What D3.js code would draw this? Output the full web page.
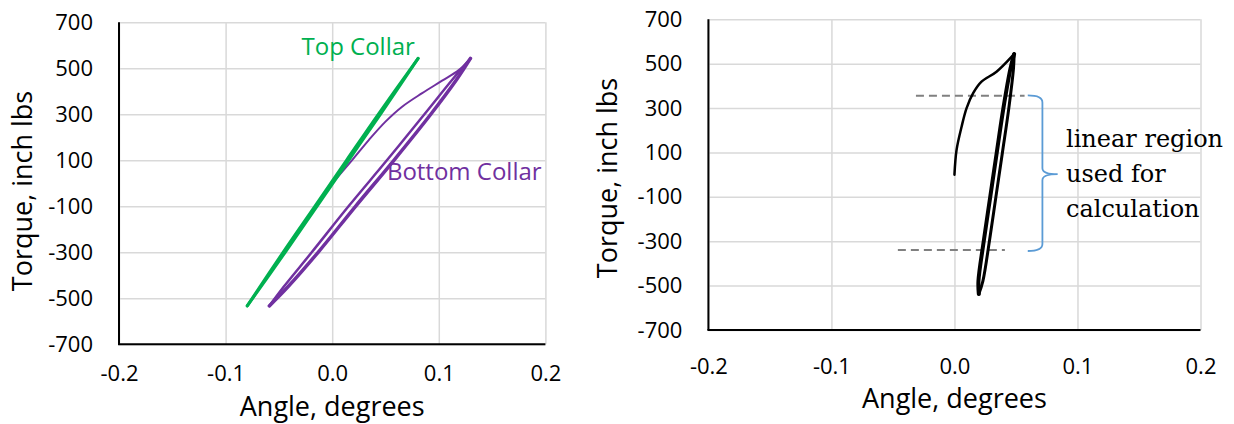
<!DOCTYPE html>
<html>
<head>
<meta charset="utf-8">
<title>torque vs angle</title>
<script src="https://d3js.org/d3.v7.min.js"></script>
<style>
  html, body { margin: 0; padding: 0; background: #fff; }
  svg text { font-family: "Open Sans", sans-serif; fill: #000; }
  .note { font-family: "DejaVu Serif", serif; }
</style>
</head>
<body>
<svg id="chart" width="1234" height="424"></svg>
<script>
// tick values shared by both panels
const angleTicks = [-0.2, -0.1, 0.0, 0.1, 0.2];
const torqueTicks = [-700, -500, -300, -100, 100, 300, 500, 700];

// left panel: top collar (green), thin hysteresis loop
const topCollarTorque = [-533, -300, -100, 100, 300, 543];
const topCollarLoad   = [-0.0797, -0.0461, -0.0163, 0.0134, 0.0432, 0.0806];
const topCollarUnload = [-0.0797, -0.0441, -0.0143, 0.0154, 0.0452, 0.0806];

// left panel: bottom collar (purple), first loading from zero
const bottomFirstAngle  = [0, 0.0187, 0.0343, 0.050, 0.0656, 0.0844, 0.1031, 0.1187, 0.1297];
const bottomFirstTorque = [0, 101, 188, 268, 333, 392, 446, 492, 541];
// bottom collar cycling loop
const bottomLoopTorque = [-533, -450, -300, -100, 100, 300, 450, 543];
const bottomUnload = [-0.059, -0.0455, -0.0192, 0.0153, 0.0513, 0.0865, 0.1126, 0.1297];
const bottomLoad   = [-0.059, -0.0415, -0.0132, 0.0219, 0.0579, 0.0925, 0.1166, 0.1297];

// right panel: single specimen (black)
const firstAngle  = [0, 0.0017, 0.0058, 0.0098, 0.0152, 0.022, 0.0342, 0.0477, 0.0485];
const firstTorque = [0, 111, 216, 299, 367, 419, 464, 539, 544];
const loopTorque = [-538, -480, -300, -100, 100, 300, 480, 544];
const loopUnload = [0.0198, 0.0195, 0.0238, 0.0291, 0.0344, 0.0398, 0.0456, 0.0485];
const loopLoad   = [0.0198, 0.0231, 0.0284, 0.0337, 0.0390, 0.0442, 0.0480, 0.0485];

// linear region marks on the right panel
const linearTop = 355, linearBottom = -339;
const noteLines = ["linear region", "used for", "calculation"];

const svg = d3.select("#chart");

const leftX = d3.scaleLinear().domain([-0.2, 0.2]).range([119, 545.4]);
const leftY = d3.scaleLinear().domain([-700, 700]).range([344.3, 22.3]);
const rightX = d3.scaleLinear().domain([-0.2, 0.2]).range([708.4, 1200.5]);
const rightY = d3.scaleLinear().domain([-700, 700]).range([330, 19.3]);

function frame(x, y, xPad, titleY, yTitleX, yTitleMid) {
    const [x0, x1] = x.range();
    const [y0, y1] = y.range();

    // grid
    svg.append("g")
        .attr("transform", `translate(0,${y0})`)
        .call(d3.axisBottom(x).tickValues(angleTicks).tickSize(-(y0 - y1)).tickFormat(""))
        .call(g => g.select(".domain").remove())
        .selectAll("line").attr("stroke", "#d9d9d9").attr("stroke-width", 1.5);
    svg.append("g")
        .attr("transform", `translate(${x0},0)`)
        .call(d3.axisLeft(y).tickValues(torqueTicks).tickSize(-(x1 - x0)).tickFormat(""))
        .call(g => g.select(".domain").remove())
        .selectAll("line").attr("stroke", "#d9d9d9").attr("stroke-width", 1.5);

    // tick labels
    svg.append("g")
        .attr("transform", `translate(0,${y0})`)
        .call(d3.axisBottom(x).tickValues(angleTicks).tickSize(0).tickPadding(xPad).tickFormat(d => d.toFixed(1)))
        .call(g => g.select(".domain").remove())
        .selectAll("text").attr("font-size", 22).attr("font-family", "Open Sans").attr("fill", "#000");
    svg.append("g")
        .attr("transform", `translate(${x0},0)`)
        .call(d3.axisLeft(y).tickValues(torqueTicks).tickSize(0).tickPadding(26).tickFormat(d => String(d)))
        .call(g => g.select(".domain").remove())
        .selectAll("text").attr("font-size", 22).attr("font-family", "Open Sans").attr("fill", "#000");

    // axis lines
    svg.append("line").attr("x1", x0).attr("x2", x0).attr("y1", y1).attr("y2", y0)
        .attr("stroke", "#000").attr("stroke-width", 2);
    svg.append("line").attr("x1", x0 - 1).attr("x2", x1).attr("y1", y0).attr("y2", y0)
        .attr("stroke", "#000").attr("stroke-width", 2);

    // titles
    svg.append("text").attr("x", (x0 + x1) / 2).attr("y", titleY)
        .attr("text-anchor", "middle").attr("font-size", 27).text("Angle, degrees");
    svg.append("text")
        .attr("transform", `translate(${yTitleX},${yTitleMid}) rotate(-90)`)
        .attr("text-anchor", "middle").attr("font-size", 27).text("Torque, inch lbs");
}

frame(leftX, leftY, 21, 416, 32, 191);
frame(rightX, rightY, 28, 408, 617, 178);

function curve(x, y, angles, torques, color, width) {
    const pts = angles.map((a, i) => [a, torques[i]]);
    const line = d3.line()
        .x(d => x(d[0]))
        .y(d => y(d[1]))
        .curve(d3.curveCatmullRom.alpha(0.5));
    svg.append("path")
        .attr("d", line(pts))
        .attr("fill", "none")
        .attr("stroke", color)
        .attr("stroke-width", width)
        .attr("stroke-linejoin", "round")
        .attr("stroke-linecap", "round");
}

// left panel curves
const green = "#00b050", purple = "#7030a0";
curve(leftX, leftY, bottomFirstAngle, bottomFirstTorque, purple, 2);
curve(leftX, leftY, bottomUnload, bottomLoopTorque, purple, 2.5);
curve(leftX, leftY, bottomLoad, bottomLoopTorque, purple, 3.5);
curve(leftX, leftY, topCollarLoad, topCollarTorque, green, 3);
curve(leftX, leftY, topCollarUnload, topCollarTorque, green, 3);

svg.append("text").attr("x", leftX(-0.0288)).attr("y", leftY(558))
    .attr("font-size", 24).style("fill", green).text("Top Collar");
svg.append("text").attr("x", leftX(0.0513)).attr("y", leftY(13))
    .attr("font-size", 24).style("fill", purple).text("Bottom Collar");

// right panel: dashed limits of the linear region
svg.append("line")
    .attr("x1", rightX(-0.0313)).attr("x2", rightX(0.057))
    .attr("y1", rightY(linearTop)).attr("y2", rightY(linearTop))
    .attr("stroke", "#808080").attr("stroke-width", 2).attr("stroke-dasharray", "8,5");
svg.append("line")
    .attr("x1", rightX(-0.046)).attr("x2", rightX(0.041))
    .attr("y1", rightY(linearBottom)).attr("y2", rightY(linearBottom))
    .attr("stroke", "#808080").attr("stroke-width", 2).attr("stroke-dasharray", "8,5");

// right panel curves
curve(rightX, rightY, firstAngle, firstTorque, "#000", 2.5);
curve(rightX, rightY, loopUnload, loopTorque, "#000", 4);
curve(rightX, rightY, loopLoad, loopTorque, "#000", 3);

// curly bracket
const bx = rightX(0.0715), tipX = rightX(0.0596), noseX = rightX(0.0839);
const bTop = rightY(linearTop + 2), bBot = rightY(linearBottom - 5), bMid = rightY(2);
const br = d3.path();
br.moveTo(tipX, bTop);
br.quadraticCurveTo(bx, bTop, bx, bTop + 7);
br.lineTo(bx, bMid - 6);
br.quadraticCurveTo(bx, bMid, noseX, bMid);
br.quadraticCurveTo(bx, bMid, bx, bMid + 6);
br.lineTo(bx, bBot - 7);
br.quadraticCurveTo(bx, bBot, tipX, bBot);
svg.append("path").attr("d", br.toString())
    .attr("fill", "none").attr("stroke", "#5b9bd5").attr("stroke-width", 1.8);

svg.append("g").selectAll("text")
    .data(noteLines)
    .join("text")
    .attr("class", "note")
    .attr("x", 1066)
    .attr("y", (d, i) => 146.7 + i * 35)
    .attr("font-size", 24)
    .style("font-family", "DejaVu Serif, serif")
    .text(d => d);
</script>
</body>
</html>
